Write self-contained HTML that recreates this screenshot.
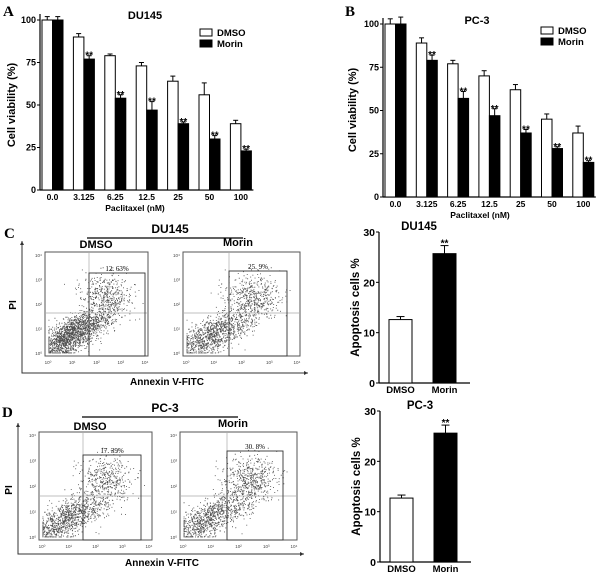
<!DOCTYPE html>
<html><head><meta charset="utf-8"><style>
body{margin:0;background:#fff;}
svg{display:block;font-family:"Liberation Sans",sans-serif;}
.b{font-weight:bold;}
</style></head><body>
<svg id="fig" width="600" height="578" viewBox="0 0 600 578">
<g id="root"></g>
</svg>
<script>
// ---- Data: panel A (DU145 viability) ----
const doseLabels = ["0.0","3.125","6.25","12.5","25","50","100"];
const duDmso = [100,90,79,73,64,56,39];
const duDmsoErr = [2,2,1,2,3,7,2];
const duMorin = [100,77,54,47,39,30,23];
const duMorinErr = [2,2,2,5,1,2,1];
// ---- Data: panel B (PC-3 viability) ----
const pcDmso = [100,89,77,70,62,45,37];
const pcDmsoErr = [3,3,2,3,3,3,4];
const pcMorin = [100,79,57,47,37,28,20];
const pcMorinErr = [4,3,4,4,2,1,1];
const viabTicks = [0,25,50,75,100];
// ---- Data: apoptosis bars ----
const apoCats = ["DMSO","Morin"];
const apoDu = [12.6,25.7];
const apoDuErr = [0.6,1.6];
const apoPc = [12.7,25.6];
const apoPcErr = [0.6,1.6];
const apoTicks = [0,10,20,30];
const gatePct = ["12. 63%","25. 9%","17. 39%","30. 8%"];

const NS="http://www.w3.org/2000/svg";
const root=document.getElementById('root');
function el(tag,attrs,parent,text){const e=document.createElementNS(NS,tag);for(const k in attrs)e.setAttribute(k,attrs[k]);if(text!==undefined)e.textContent=text;(parent||root).appendChild(e);return e;}

function viab(o){
  const g=el('g',{});
  
  
  const y=v=>o.y0-(v/100)*(o.y0-o.y100);
  const gx=i=>o.start+i*o.step;
  el('line',{x1:o.ax,y1:o.y100-6,x2:o.ax,y2:o.y0,stroke:'#000','stroke-width':1.2},g);
  el('line',{x1:o.ax,y1:o.y0,x2:gx(6)+2*o.bw+2,y2:o.y0,stroke:'#000','stroke-width':1.2},g);
  viabTicks.forEach(t=>{
    el('line',{x1:o.ax-3,y1:y(t),x2:o.ax,y2:y(t),stroke:'#000'},g);
    const tx=el('text',{x:o.ax-4,y:y(t)+3,'font-size':9,'text-anchor':'end',class:'b'},g,t);
    
    
  });
  o.d.forEach((v,i)=>{
    const x=gx(i);
    const r1=el('rect',{x:x,y:y(v),width:o.bw,height:o.y0-y(v),fill:'#fff',stroke:'#000','stroke-width':1},g);
    
    
    el('line',{x1:x+o.bw/2,y1:y(v),x2:x+o.bw/2,y2:y(v+o.de[i]),stroke:'#000'},g);
    el('line',{x1:x+o.bw/2-2.5,y1:y(v+o.de[i]),x2:x+o.bw/2+2.5,y2:y(v+o.de[i]),stroke:'#000'},g);
    const m=o.m[i];
    const r2=el('rect',{x:x+o.bw,y:y(m),width:o.bw,height:o.y0-y(m),fill:'#000',stroke:'#000','stroke-width':1},g);
    
    
    el('line',{x1:x+1.5*o.bw,y1:y(m),x2:x+1.5*o.bw,y2:y(m+o.me[i]),stroke:'#000'},g);
    el('line',{x1:x+1.5*o.bw-2.5,y1:y(m+o.me[i]),x2:x+1.5*o.bw+2.5,y2:y(m+o.me[i]),stroke:'#000'},g);
    if(i>0){const s=el('text',{x:x+1.5*o.bw,y:y(m+o.me[i])+3,'font-size':10,'text-anchor':'middle',class:'b'},g,'**');
      }
    const lt=el('text',{x:x+o.bw,y:o.y0+10,'font-size':8.5,'text-anchor':'middle',class:'b'},g,doseLabels[i]);
    
  });
  const xt=el('text',{x:o.xt,y:o.y0+21,'font-size':8.5,'text-anchor':'middle',class:'b'},g,'Paclitaxel (nM)');
  
  const yt=el('text',{x:0,y:0,'font-size':11,'text-anchor':'middle',class:'b',transform:`translate(${o.ylx},${o.yly}) rotate(-90)`},g,'Cell viability (%)');
  
  const tt=el('text',{x:o.tx,y:o.ty,'font-size':11,'text-anchor':'middle',class:'b'},g,o.title);
  
  const lg=el('g',{},g);
  el('rect',{x:o.lx,y:o.ly,width:12,height:7,fill:'#fff',stroke:'#000'},lg);
  el('text',{x:o.lx+17,y:o.ly+7,'font-size':9.5,class:'b'},lg,'DMSO');
  el('rect',{x:o.lx,y:o.ly+11,width:12,height:7,fill:'#000',stroke:'#000'},lg);
  el('text',{x:o.lx+17,y:o.ly+18,'font-size':9.5,class:'b'},lg,'Morin');
}
viab({name:'du145-viability-chart',ax:40,y0:190,y100:20,start:42,step:31.4,bw:10.5,d:duDmso,de:duDmsoErr,m:duMorin,me:duMorinErr,xt:135,ylx:15,yly:105,tx:145,ty:19,title:'DU145',lx:200,ly:29});
viab({name:'pc3-viability-chart',ax:383,y0:197,y100:24,start:385,step:31.3,bw:10.5,d:pcDmso,de:pcDmsoErr,m:pcMorin,me:pcMorinErr,xt:480,ylx:356,yly:110,tx:477,ty:24,title:'PC-3',lx:541,ly:27});

function apo(o){
  const g=el('g',{});
  
  const y=v=>o.y0-(v/30)*(o.y0-o.y30);
  el('line',{x1:o.ax,y1:o.y30,x2:o.ax,y2:o.y0,stroke:'#000','stroke-width':1.2},g);
  el('line',{x1:o.ax,y1:o.y0,x2:o.ax+91,y2:o.y0,stroke:'#000','stroke-width':1.2},g);
  apoTicks.forEach(t=>{el('line',{x1:o.ax-3,y1:y(t),x2:o.ax,y2:y(t),stroke:'#000'},g);
    const tx=el('text',{x:o.ax-4,y:y(t)+4,'font-size':10.5,'text-anchor':'end',class:'b'},g,t);
    });
  o.d.forEach((v,i)=>{
    const x=o.ax+10+i*44,w=23;
    const r=el('rect',{x:x,y:y(v),width:w,height:o.y0-y(v),fill:i?'#000':'#fff',stroke:'#000','stroke-width':1},g);
    
    el('line',{x1:x+w/2,y1:y(v),x2:x+w/2,y2:y(v+o.e[i]),stroke:'#000'},g);
    el('line',{x1:x+w/2-4,y1:y(v+o.e[i]),x2:x+w/2+4,y2:y(v+o.e[i]),stroke:'#000'},g);
    if(i==1){const s=el('text',{x:x+w/2,y:y(v+o.e[i])+1,'font-size':10,'text-anchor':'middle',class:'b'},g,'**');
      }
    const lt=el('text',{x:x+w/2,y:o.y0+10,'font-size':9.5,'text-anchor':'middle',class:'b'},g,apoCats[i]);
    
  });
  const yt=el('text',{x:0,y:0,'font-size':11.5,'text-anchor':'middle',class:'b',transform:`translate(${o.ax-20},${(o.y0+o.y30)/2}) rotate(-90)`},g,'Apoptosis cells %');
  
  const tt=el('text',{x:o.ax+40,y:o.y30-2,'font-size':11.5,'text-anchor':'middle',class:'b'},g,o.title);
  
}
apo({name:'du145-apoptosis-chart',ax:379,y0:383,y30:232,d:apoDu,e:apoDuErr,title:'DU145'});
apo({name:'pc3-apoptosis-chart',ax:380,y0:562,y30:411,d:apoPc,e:apoPcErr,title:'PC-3'});

// flow cytometry scatter (visual texture, seeded)
let seed=12345;function rnd(){seed=(seed*1103515245+12345)%2147483648;return seed/2147483648;}
function gauss(){let u=rnd()||1e-6,v=rnd();return Math.sqrt(-2*Math.log(u))*Math.cos(2*Math.PI*v);}
function flow(b,q,gate,pct,frac,name){
  const g=el('g',{});
  const px=v=>b.x0+3+(v/4)*(b.x1-b.x0-6), py=v=>b.y1-3-(v/4)*(b.y1-b.y0-6);
  let d='';
  for(let i=0;i<3400;i++){
    let x,y;
    if(rnd()<frac){x=2.4+gauss()*0.5;y=2.3+gauss()*0.45;}
    else{const t=gauss();x=0.8+t*0.55+gauss()*0.25;y=0.7+t*0.4+gauss()*0.3;if(rnd()<0.25){x+=0.9;y+=0.3;}}
    x=Math.max(0.02,Math.min(3.9,x));y=Math.max(0.02,Math.min(3.5,y));
    d+=`M${px(x).toFixed(1)} ${py(y).toFixed(1)}h0.9v0.9h-0.9z`;
  }
  el('path',{d:d,fill:'#222','fill-opacity':0.8},g);
  el('rect',{x:b.x0,y:b.y0,width:b.x1-b.x0,height:b.y1-b.y0,fill:'none',stroke:'#555'},g);
  el('line',{x1:q.x,y1:b.y0,x2:q.x,y2:b.y1,stroke:'#aaa','stroke-width':0.7},g);
  el('line',{x1:b.x0,y1:q.y,x2:b.x1,y2:q.y,stroke:'#aaa','stroke-width':0.7},g);
  el('rect',{x:gate.x0,y:gate.y0,width:gate.x1-gate.x0,height:b.y1-gate.y0,fill:'none',stroke:'#333','stroke-width':0.9},g);
  el('text',{x:(gate.x0+gate.x1)/2,y:gate.y0-2,'font-size':7,'text-anchor':'middle','font-family':'Liberation Serif'},g,pct);
  ['0','1','2','3','4'].forEach((e,i)=>{
    el('text',{x:px(i),y:b.y1+8,'font-size':4.5,'text-anchor':'middle',fill:'#444'},g,'10'+['⁰','¹','²','³','⁴'][i]);
    el('text',{x:b.x0-3,y:py(i)+2,'font-size':4.5,'text-anchor':'end',fill:'#444'},g,'10'+['⁰','¹','²','³','⁴'][i]);
  });
}
function panel(o){
  const g=el('g',{});
  el('text',{x:o.L.x,y:o.L.y,'font-size':15,'font-weight':'bold','font-family':'Liberation Serif'},g,o.letter);
  el('polyline',{points:`${o.ax},${o.at} ${o.ax},${o.ab} ${o.ar},${o.ab}`,fill:'none',stroke:'#333'},g);
  el('path',{d:`M${o.ax-2},${o.at+4}L${o.ax},${o.at}L${o.ax+2},${o.at+4}z M${o.ar-4},${o.ab-2}L${o.ar},${o.ab}L${o.ar-4},${o.ab+2}z`,fill:'#333'},g);
  const t=el('text',{x:o.tx,y:o.ty,'font-size':12,'text-anchor':'middle',class:'b'},g,o.title);
  
  el('line',{x1:o.lx0,y1:o.ty+5,x2:o.lx1,y2:o.ty+5,stroke:'#000','stroke-width':1.2},g);
  el('text',{x:o.dx,y:o.dy,'font-size':11,'text-anchor':'middle',class:'b'},g,'DMSO');
  el('text',{x:o.mx,y:o.my,'font-size':11,'text-anchor':'middle',class:'b'},g,'Morin');
  const xa=el('text',{x:o.tx-3,y:o.ab+12,'font-size':10,'text-anchor':'middle',class:'b'},g,'Annexin V-FITC');
  
  const ya=el('text',{x:0,y:0,'font-size':10,'text-anchor':'middle',class:'b',transform:`translate(${o.ax-6},${o.pyl}) rotate(-90)`},g,'PI');
  
}
panel({name:'panel-c-flow',letter:'C',title:'DU145',L:{x:4,y:238},ax:22,at:241,ab:373,ar:308,tx:170,ty:233,lx0:87,lx1:243,dx:96,dy:248,mx:238,my:246,pyl:305});
panel({name:'panel-d-flow',letter:'D',title:'PC-3',L:{x:2,y:417},ax:18,at:423,ab:554,ar:304,tx:165,ty:412,lx0:82,lx1:238,dx:90,dy:430,mx:233,my:427,pyl:490});
flow({x0:45,x1:148,y0:252,y1:356},{x:89,y:313},{x0:89,x1:145,y0:273},gatePct[0],0.2,'du145-dmso-scatter');
flow({x0:183,x1:300,y0:252,y1:356},{x:229,y:313},{x0:229,x1:287,y0:271},gatePct[1],0.3,'du145-morin-scatter');
flow({x0:39,x1:152,y0:432,y1:540},{x:83,y:496},{x0:83,x1:141,y0:455},gatePct[2],0.25,'pc3-dmso-scatter');
flow({x0:180,x1:297,y0:432,y1:540},{x:227,y:496},{x0:227,x1:283,y0:451},gatePct[3],0.33,'pc3-morin-scatter');
el('text',{x:3,y:16,'font-size':15,'font-weight':'bold','font-family':'Liberation Serif'},root,'A');
el('text',{x:345,y:16,'font-size':15,'font-weight':'bold','font-family':'Liberation Serif'},root,'B');
</script>
</body></html>
